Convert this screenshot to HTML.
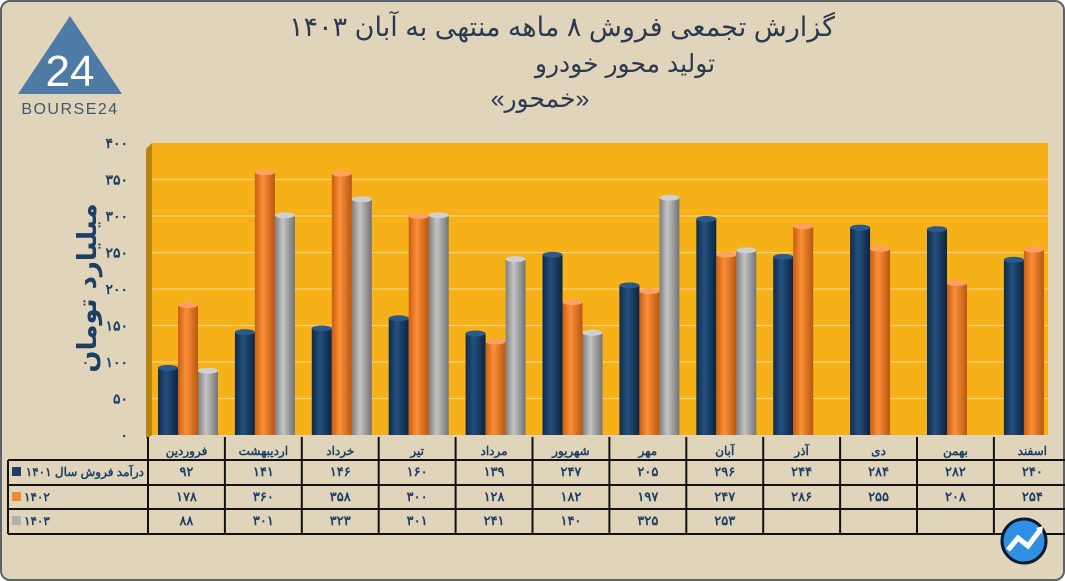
<!DOCTYPE html>
<html><head><meta charset="utf-8">
<style>
html,body{margin:0;padding:0;}
body{width:1065px;height:581px;overflow:hidden;background:#fff;font-family:"Liberation Sans","Noto Sans CJK SC",sans-serif;}
#frame{position:absolute;left:0;top:0;width:1061px;height:577px;border:2px solid #5a6168;border-radius:10px;background:#e0d5bb;overflow:hidden;}
svg{position:absolute;left:0;top:0;}
</style></head><body>
<div id="frame"></div>
<svg id="chart" width="1065" height="581">
<defs>
<linearGradient id="gBlue" x1="0" x2="1"><stop offset="0" stop-color="#0f2a4a"/><stop offset="0.4" stop-color="#24507e"/><stop offset="1" stop-color="#0d2440"/></linearGradient>
<linearGradient id="gOrange" x1="0" x2="1"><stop offset="0" stop-color="#c85e12"/><stop offset="0.4" stop-color="#fb8f38"/><stop offset="1" stop-color="#b9560f"/></linearGradient>
<linearGradient id="gGray" x1="0" x2="1"><stop offset="0" stop-color="#7e7e7e"/><stop offset="0.4" stop-color="#c4c4c4"/><stop offset="1" stop-color="#737373"/></linearGradient>
</defs>
<g>
<polygon points="70,16 122,94 18,94" fill="#4e7aa6"/>
<text x="70" y="86" font-size="44" fill="#fff" text-anchor="middle" font-family="Liberation Sans, sans-serif">24</text>
<text x="70" y="114" font-size="16" fill="#3e5872" text-anchor="middle" letter-spacing="1.5">BOURSE24</text>
</g>
<g font-family="Liberation Sans, DejaVu Sans, sans-serif" fill="#2a3a50" text-anchor="end">
<text x="835" y="36" font-size="27">گزارش تجمعی فروش ۸ ماهه منتهی به آبان ۱۴۰۳</text>
<text x="625" y="72" font-size="25" text-anchor="middle">تولید محور خودرو</text>
<text x="540" y="107" font-size="25" text-anchor="middle">«خمحور»</text>
</g>
<text transform="translate(96,288) rotate(-90)" text-anchor="middle" font-size="26" font-weight="bold" fill="#1d3f66" font-family="DejaVu Sans, sans-serif">میلیارد تومان</text>
<g id="plot"></g>
<g id="table"></g>
<g>
<circle cx="1024" cy="541" r="22" fill="#2f8fe0" stroke="#0b1a2a" stroke-width="3"/>
<path d="M1008 550 L1018 538 L1028 546 L1040 530" stroke="#fff" stroke-width="5" fill="none"/>
<polygon points="1043,526 1036,528 1042,534" fill="#fff"/>
</g>
</svg>
<script>
const categories=["فروردین","اردیبهشت","خرداد","تیر","مرداد","شهریور","مهر","آبان","آذر","دی","بهمن","اسفند"];
const sales1401=[92,141,146,160,139,247,205,296,244,284,282,240];
const sales1402=[178,360,358,300,128,182,197,247,286,255,208,254];
const sales1403=[88,301,323,301,241,140,325,253,null,null,null,null];
const yTicks=[0,50,100,150,200,250,300,350,400];
const seriesLabels=["درآمد فروش سال ۱۴۰۱","۱۴۰۲","۱۴۰۳"];

const NS="http://www.w3.org/2000/svg";
const fa=n=>String(n).replace(/\d/g,d=>"۰۱۲۳۴۵۶۷۸۹"[d]);
const X0=148,COLW=76.9,Y0=435,YTOP=143,YMAX=400;
const y=v=>Y0-(v/YMAX)*(Y0-YTOP);
const xCol=i=>X0+i*COLW;
function mk(tag,attrs,parent){const e=document.createElementNS(NS,tag);for(const k in attrs)e.setAttribute(k,attrs[k]);parent.appendChild(e);return e;}
const plot=document.getElementById('plot');
const bg=mk('rect',{x:152,y:YTOP,width:896,height:Y0-YTOP,fill:'#f6b118'},plot);


const wall=mk('polygon',{points:`146,${YTOP+6} 152,${YTOP} 152,${Y0} 146,${Y0+4}`,fill:'#b98310'},plot);


yTicks.forEach(t=>{
  if(t>0&&t<YMAX){const g=mk('line',{x1:152,x2:1048,y1:y(t),y2:y(t),stroke:'#fbd27a','stroke-width':1.2},plot);
  
  }
  const tx=mk('text',{x:128,y:y(t)+5,'text-anchor':'end','font-size':14,'font-weight':'bold',fill:'#1d3f66'},plot);
  tx.textContent=fa(t);
  
  
});
const series=[[sales1401,'url(#gBlue)','#2a5a8c'],[sales1402,'url(#gOrange)','#fda060'],[sales1403,'url(#gGray)','#d0d0d0']];
series.forEach((s,si)=>{
  s[0].forEach((v,i)=>{
    if(v==null)return;
    const bx=xCol(i)+10+si*20, by=y(v);
    const r=mk('rect',{x:bx,y:by,width:20,height:Y0-by,fill:s[1]},plot);
    
    
    const c=mk('ellipse',{cx:bx+10,cy:by,rx:10,ry:3,fill:s[2]},plot);
    
    
  });
});
const tb=document.getElementById('table');
const rowsY=[437,460,485,509,534];
const colors=['#1d3f66','#f08a30','#b0b0b0'];
const data=[sales1401,sales1402,sales1403];
for(let i=0;i<=categories.length;i++){
  const top = i===categories.length?460:437;
  const l=mk('line',{x1:xCol(i),x2:xCol(i),y1:top,y2:534,stroke:'#111','stroke-width':2},tb);
  
  
}
const lft=mk('line',{x1:8,x2:8,y1:460,y2:534,stroke:'#111','stroke-width':2},tb);


[460,485,509,534].forEach(yy=>{
  const l=mk('line',{x1:8,x2:xCol(12),y1:yy,y2:yy,stroke:'#111','stroke-width':2},tb);
  
  
});
categories.forEach((c,i)=>{
  const t=mk('text',{x:xCol(i)+COLW/2,y:455,'text-anchor':'middle','font-size':12,'font-weight':'bold',fill:'#1d3f66'},tb);
  t.textContent=c;
  
  
});
data.forEach((arr,r)=>{
  const sw=mk('rect',{x:12,y:rowsY[r+1]+7,width:9,height:9,fill:colors[r]},tb);
  
  
  const lb=mk('text',{x:r===0?144:24,y:rowsY[r+1]+16,'text-anchor':r===0?'end':'start','font-size':12,'font-weight':'bold',fill:'#1d3f66'},tb);
  lb.textContent=seriesLabels[r];
  
  
  arr.forEach((v,i)=>{
    if(v==null)return;
    const t=mk('text',{x:xCol(i)+COLW/2,y:rowsY[r+1]+16,'text-anchor':'middle','font-size':13,'font-weight':'bold',fill:'#1d3f66'},tb);
    t.textContent=fa(v);
    
    
  });
});
</script>
</body></html>
